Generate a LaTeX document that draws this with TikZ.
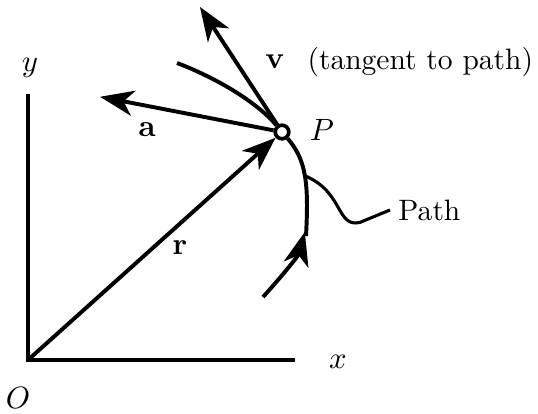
\documentclass[tikz,border=0pt]{standalone}
\usepackage{amsmath}
\usepackage{tikz}
\usetikzlibrary{arrows.meta,positioning}

\begin{document}
\begin{tikzpicture}[
  font=\fontsize{10.5pt}{12.5pt}\selectfont,
  axis/.style={line width=1.4pt},
  vec/.style={line width=1.4pt,-{Stealth[length=12pt,width=9pt,inset=3.5pt]}},
  track/.style={line width=1.4pt},
  leader/.style={line width=1.1pt},
  pt/.style={draw,circle,line width=1.3pt,fill=white,minimum size=0.17cm,inner sep=0pt},
  label_style/.style={inner sep=0pt},
]
\useasboundingbox (-0.35,-0.675) rectangle (6.375,4.5);

%% ===== Axes ==================================================================
\coordinate (O) at (0,0);
\coordinate (ytop) at (0,3.325);
\coordinate (xend) at (3.34,0);
\draw[axis] (ytop) -- (O) -- (xend);
\node[label_style] (ylbl) at (0.025,3.65) {$y$};
\node[label_style] (xlbl) at (3.875,-0.025) {$x$};
\node[label_style] (olbl) at (-0.125,-0.475) {$O$};

%% ===== Particle at P =========================================================
\node[pt] (P) at (3.175,2.85) {};
\node[label_style] (plbl) at (3.675,2.875) {$P$};

%% ===== Path of the particle ==================================================
\coordinate (pbot) at (2.9375,0.7875);
\coordinate (pjoin) at (3.46,1.6);
\coordinate (ptop) at (1.8625,3.7125);
\draw[vec] (pbot) .. controls (3.14,1.01) and (3.38,1.3) .. (pjoin);
\draw[track] (3.475,1.55) .. controls (3.51,2.2) and (3.48,2.5) .. (P)
  coordinate[pos=0.5] (sq);
\draw[track] (P) .. controls (2.854,3.233) and (2.33,3.536) .. (ptop);
\node[anchor=west,inner sep=2.8pt] (pathlbl) at (4.525,1.875) {Path};
\draw[leader] (sq) .. controls (3.95,2.1) and (3.85,1.65) .. (4.15,1.72)
  -- (pathlbl.west);

%% ===== Vectors r, a, v =======================================================
\coordinate (atip) at (0.9,3.29);
\coordinate (vtip) at (2.15,4.4125);
\draw[vec] (O) -- (P);
\draw[vec] (P) -- (atip);
\draw[vec] (P) -- (vtip);
\node[label_style] (rlbl) at (1.9,1.4) {$\mathbf{r}$};
\node[label_style] (albl) at (1.4875,2.875) {$\mathbf{a}$};
\node[label_style] (vlbl) at (3.0875,3.725) {$\mathbf{v}$};
\node[label_style,anchor=west] (tanlbl) at (3.4875,3.725) {(tangent to path)};

\end{tikzpicture}
\end{document}
